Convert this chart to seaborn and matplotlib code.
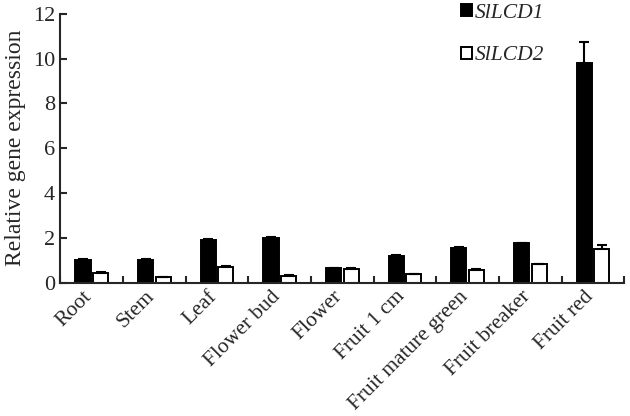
import pandas as pd
import numpy as np
import matplotlib
matplotlib.use("Agg")
import matplotlib.pyplot as plt
import seaborn as sns
from matplotlib.patches import Patch

tissues = ["Root", "Stem", "Leaf", "Flower bud", "Flower", "Fruit 1 cm",
           "Fruit mature green", "Fruit breaker", "Fruit red"]
genes = ["SlLCD1", "SlLCD2"]
sllcd1 = [1.02, 1.02, 1.92, 2.0, 0.65, 1.2, 1.57, 1.76, 9.8]
sllcd2 = [0.45, 0.25, 0.72, 0.3, 0.62, 0.38, 0.58, 0.82, 1.5]
sllcd1_err = [0.04, 0.03, 0.04, 0.04, 0.03, 0.03, 0.04, 0.04, 0.92]
sllcd2_err = [0.03, 0.02, 0.03, 0.03, 0.03, 0.02, 0.03, 0.03, 0.2]

df = pd.DataFrame({
    "tissue": tissues * 2,
    "gene": [genes[0]] * len(tissues) + [genes[1]] * len(tissues),
    "value": sllcd1 + sllcd2,
})

sns.set_style("ticks")
plt.rcParams["font.family"] = ["Liberation Serif", "DejaVu Serif"]

fig = plt.figure(figsize=(6.3, 4.16), dpi=100)
ax = fig.add_axes([0.096, 0.32, 0.895, 0.647])

sns.barplot(data=df, x="tissue", y="value", hue="gene", order=tissues,
            hue_order=genes, palette={"SlLCD1": "black", "SlLCD2": "white"},
            edgecolor="black", linewidth=1.4, width=0.56, gap=0.14,
            errorbar=None, legend=False, ax=ax)

# upper error bars only
for cont, errs in zip(ax.containers, [sllcd1_err, sllcd2_err]):
    xs = [b.get_x() + b.get_width() / 2 for b in cont]
    ys = [b.get_height() for b in cont]
    ax.errorbar(xs, ys, yerr=[np.zeros(len(errs)), errs], fmt="none",
                ecolor="black", elinewidth=1.5, capsize=3.5, capthick=1.5)

ax.set_xlim(-0.5, len(tissues) - 0.5)
ax.set_ylim(0, 12)
ax.set_yticks(range(0, 13, 2))
ax.set_xlabel("")
ax.set_ylabel("Relative gene expression", fontsize=17, labelpad=5)

# labels sit a little left of the group centre, like the original
ax.set_xticks(np.arange(len(tissues)) - 0.15)
ax.set_xticklabels(tissues, rotation=45, ha="right", va="top",
                   rotation_mode="anchor", fontsize=15.5)
ax.set_xticks(np.arange(-0.5, len(tissues)), minor=True)
ax.tick_params(axis="x", which="major", length=0, pad=3)
ax.tick_params(axis="x", which="minor", direction="in", length=5, width=1.5)
ax.tick_params(axis="y", direction="in", length=5, width=1.5, labelsize=16,
               pad=4)

for s in ["top", "right"]:
    ax.spines[s].set_visible(False)
for s in ["left", "bottom"]:
    ax.spines[s].set_linewidth(1.5)

handles = [Patch(facecolor="black", edgecolor="black", linewidth=1.4),
           Patch(facecolor="white", edgecolor="black", linewidth=1.4)]
ax.legend(handles, genes, loc="upper left", bbox_to_anchor=(0.71, 1.037),
          frameon=False, prop={"style": "italic", "size": 15.5},
          handlelength=0.5, handleheight=0.5, handletextpad=0.15,
          labelspacing=1.1, borderpad=0, borderaxespad=0)

fig.savefig("out.png", dpi=100)
